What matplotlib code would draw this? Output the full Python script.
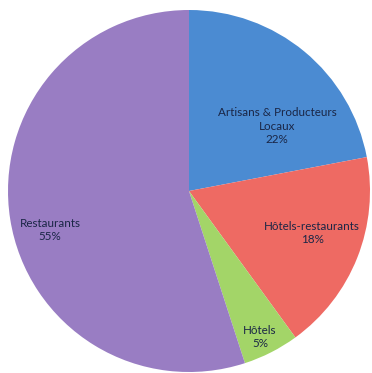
import matplotlib
matplotlib.use("Agg")
import matplotlib.pyplot as plt

categories = ["Artisans & Producteurs\nLocaux", "Hôtels-restaurants", "Hôtels", "Restaurants"]
shares = [22, 18, 5, 55]
colors = ["#4b8bd2", "#ee6a63", "#a3d568", "#997dc3"]
# label anchor (x, y) in pixel-like data units, origin at bottom-left
label_pos = [(277, 247), (312, 140), (260, 36), (50, 143)]

W, H = 372, 373
fig = plt.figure(figsize=(W / 100, H / 100), dpi=100)
ax = fig.add_axes([0, 0, 1, 1])

ax.pie(shares, colors=colors, startangle=90, counterclock=False,
       radius=181, center=(189, 182), frame=True,
       wedgeprops=dict(linewidth=0))
ax.set_xlim(0, W)
ax.set_ylim(0, H)
ax.set_aspect("equal")
ax.axis("off")

for name, val, (x, y) in zip(categories, shares, label_pos):
    ax.text(x, y, f"{name}\n{val}%", ha="center", va="center",
            fontsize=8.4, family="Lato", color="#1a2646", linespacing=1.3)

fig.savefig("out.png", dpi=100)
